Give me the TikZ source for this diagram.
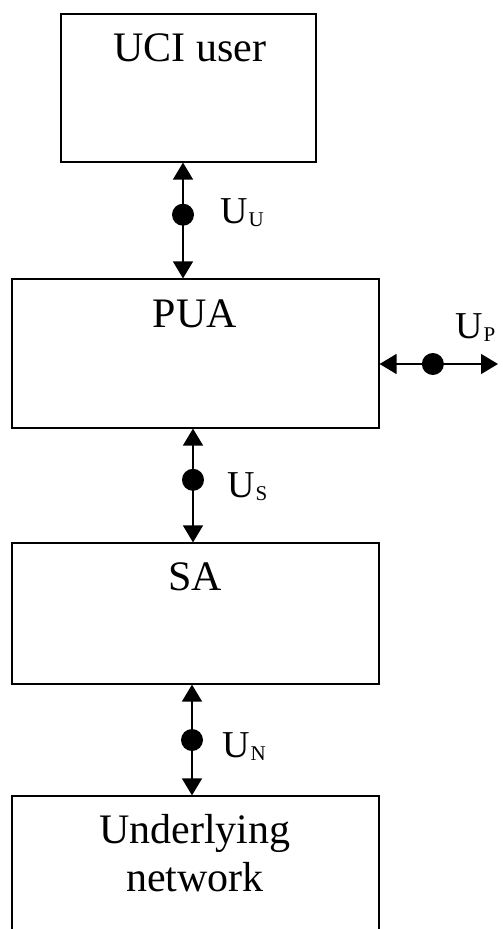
\documentclass[tikz,border=0pt]{standalone}
\usepackage{fontspec}
\setmainfont{Liberation Serif}
\usetikzlibrary{arrows.meta}
\tikzset{
  box/.style={draw, line width=1.2pt, minimum width=367pt, inner sep=0pt},
  link/.style={line width=1.5pt, {Triangle[width=20pt,length=17pt]}-{Triangle[width=20pt,length=17pt]}},
  dot/.style={circle, fill, inner sep=0pt, minimum size=22pt},
  big/.style={font=\fontsize{42}{48}\selectfont},
  iname/.style={anchor=base west, inner sep=0pt, font=\fontsize{38}{40}\selectfont}
}
\newcommand{\iface}[1]{U\kern1pt\raisebox{-3.5pt}{\fontsize{21}{21}\selectfont #1}}

\begin{document}
\begin{tikzpicture}[x=1pt,y=-1pt,big]
\clip (0,0) rectangle (503,929);
% the four layers
\node[box, minimum width=255pt, minimum height=148pt] (uci) at (188.5,88) {};
\node[box, minimum height=149pt] (pua) at (195.5,353.5) {};
\node[box, minimum height=141pt] (sa) at (195.5,613.5) {};
\node[box, minimum height=160pt] (net) at (195.5,876) {};
\node[anchor=base] (uciname) at (190,61) {UCI user};
\node[anchor=base] (puaname) at (195,327) {PUA};
\node[anchor=base] (saname) at (195,590) {SA};
\node[anchor=base, align=center] (netname) at (195,891) {Underlying\\network};
% interfaces
\draw[link] ([xshift=-5.5pt]uci.south) -- node[dot, pos=0.45] (dU) {} ([xshift=-5.5pt]uci.south |- pua.north);
\draw[link] ([xshift=-2.5pt]pua.south) -- node[dot, pos=0.45] (dS) {} ([xshift=-2.5pt]pua.south |- sa.north);
\draw[link] ([xshift=-3.5pt]sa.south) -- node[dot, pos=0.5] (dN) {} ([xshift=-3.5pt]sa.south |- net.north);
\coordinate (pend) at (498,364);
\draw[link] (pua.east |- pend) -- node[dot, pos=0.45] (dP) {} (pend);
\node[iname] (uU) at (220,223) {\iface{U}};
\node[iname] (uS) at (227,497) {\iface{S}};
\node[iname] (uN) at (222,757) {\iface{N}};
\node[iname] (uP) at (455,338) {\iface{P}};
\end{tikzpicture}
\end{document}
